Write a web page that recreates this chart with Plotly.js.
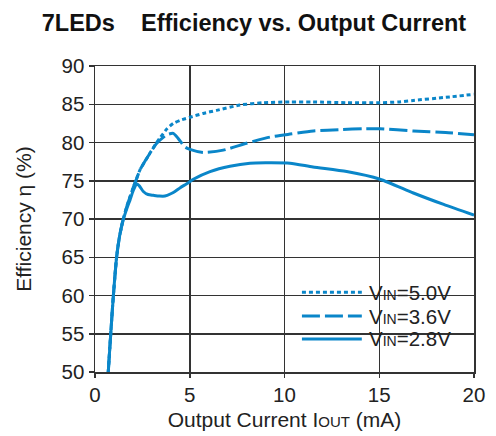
<!DOCTYPE html>
<html><head><meta charset="utf-8">
<script src="https://cdn.plot.ly/plotly-3.0.1.min.js"></script>
<style>html,body{margin:0;padding:0;background:#fff}#chart{width:496px;height:436px}</style>
</head><body><div id="chart"></div>
<script>
// Vin = 2.8V (solid)
const x28 = [0.70,0.83,0.97,1.14,1.3,1.49,1.7,1.85,2.0,2.2,2.35,2.55,2.8,3.08,3.4,3.69,4.0,4.22,4.5,4.84,5.19,6.07,7.12,8.18,9.0,10.29,11.5,13.28,15.04,16.8,18.4,20.0];
const y28 = [50,55,60,65,67.8,69.9,71.5,72.5,73.6,74.6,74.3,73.6,73.2,73.1,73.0,73.0,73.3,73.6,74.1,74.6,75.2,76.2,76.9,77.3,77.35,77.3,76.8,76.2,75.2,73.4,71.9,70.5];
// Vin = 3.6V (dashed)
const x36 = [0.70,0.83,0.97,1.14,1.3,1.49,1.7,1.85,2.0,2.2,2.37,2.8,3.26,3.78,4.13,4.40,4.75,5.01,5.72,6.77,8.0,9.23,10.29,11.52,13.0,14.16,15.04,16.8,18.5,20.0];
const y36 = [50,55,60,65,67.8,70.0,71.8,72.9,74.0,75.3,76.4,78.2,79.9,81.0,81.2,80.5,79.4,79.1,78.7,79.0,79.9,80.7,81.1,81.5,81.7,81.8,81.8,81.5,81.3,81.0];
// Vin = 5.0V (dotted)
const x50 = [0.70,0.83,0.97,1.14,1.3,1.49,1.7,1.85,2.0,2.2,2.37,2.8,3.2,3.43,3.8,4.13,4.5,5.01,5.7,6.42,7.65,8.88,10.29,11.5,13.28,15.04,16.0,16.8,18.5,20.0];
const y50 = [50,55,60,65,67.8,70.0,71.8,72.9,74.0,75.3,76.4,78.2,79.8,80.6,81.8,82.5,82.9,83.3,83.8,84.2,84.9,85.2,85.3,85.3,85.2,85.2,85.3,85.5,85.9,86.3];

const seriesNames = ['V<span style="font-size:14px">IN</span>=5.0V','V<span style="font-size:14px">IN</span>=3.6V','V<span style="font-size:14px">IN</span>=2.8V'];
const xTicks = [0,5,10,15,20];
const yTicks = [50,55,60,65,70,75,80,85,90];

const C = '#0a86c9';
const dashes = ['4px,3px','18px,5px','solid'];
const traces = [
  {x:x50,y:y50,name:seriesNames[0],mode:'lines',line:{color:C,width:3,dash:dashes[0],shape:'spline',smoothing:0.6}},
  {x:x36,y:y36,name:seriesNames[1],mode:'lines',line:{color:C,width:3,dash:dashes[1],shape:'spline',smoothing:0.6}},
  {x:x28,y:y28,name:seriesNames[2],mode:'lines',line:{color:C,width:3,dash:dashes[2],shape:'spline',smoothing:0.6}}
];

const F = 'Liberation Sans, Arial, sans-serif';
const legX0 = 0.546, legX1 = 0.704, legTx = 0.718;
const legY = [0.261, 0.183, 0.108];
const shapes = [{type:'rect',xref:'paper',yref:'paper',x0:0.533,x1:0.963,y0:0.046,y1:0.317,fillcolor:'#fff',line:{width:0},layer:'below'}];
const annotations = [];
legY.forEach((yy,i)=>{
  shapes.push({type:'line',xref:'paper',yref:'paper',x0:legX0,x1:legX1,y0:yy,y1:yy,line:{color:C,width:3,dash:dashes[i]}});
  annotations.push({xref:'paper',yref:'paper',x:legTx,y:yy,xanchor:'left',yanchor:'middle',showarrow:false,text:seriesNames[i],font:{family:F,size:20.5,color:'#222'}});
});

const G = '#333';
const layout = {
  width:496,height:436,
  margin:{l:95,r:22,t:66,b:64},
  paper_bgcolor:'#fff',plot_bgcolor:'#fff',
  showlegend:false,
  title:{text:'<b>7LEDs    Efficiency vs. Output Current</b>',font:{family:F,size:23.5,color:'#111'},x:0.512,xanchor:'center',y:0.947,yanchor:'middle'},
  xaxis:{range:[0,20],tickvals:xTicks,ticks:'outside',ticklen:4,tickcolor:G,tickwidth:1.5,
    showgrid:true,gridcolor:G,gridwidth:1.5,showline:true,linecolor:G,linewidth:1.5,mirror:true,zeroline:false,
    tickfont:{family:F,size:20.5,color:'#222'},
    title:{text:'Output Current I<span style="font-size:15px">OUT</span> (mA)',font:{family:F,size:21,color:'#222'},standoff:7}},
  yaxis:{range:[50,90],tickvals:yTicks,ticks:'outside',ticklen:5,tickcolor:G,tickwidth:1.5,
    showgrid:true,gridcolor:G,gridwidth:1.5,showline:true,linecolor:G,linewidth:1.5,mirror:true,zeroline:false,
    tickfont:{family:F,size:20.5,color:'#222'},
    title:{text:'Efficiency η (%)',font:{family:F,size:21,color:'#222'},standoff:24}},
  shapes:shapes,annotations:annotations
};
Plotly.newPlot('chart',traces,layout,{displayModeBar:false,staticPlot:true});
</script></body></html>
